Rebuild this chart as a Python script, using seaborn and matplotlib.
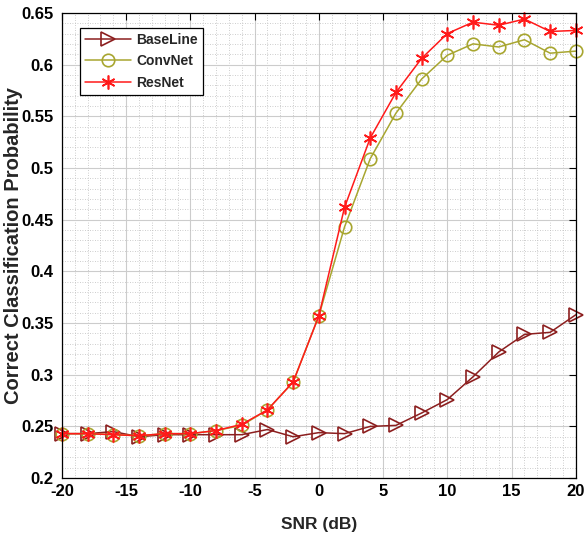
import numpy as np
import pandas as pd
import matplotlib
matplotlib.use('Agg')
import matplotlib.pyplot as plt
from matplotlib.ticker import MultipleLocator
import seaborn as sns

# Données
snr = [-20, -18, -16, -14, -12, -10, -8, -6, -4, -2, 0,
       2, 4, 6, 8, 10, 12, 14, 16, 18, 20]
baseline = [0.243, 0.243, 0.245, 0.240, 0.242, 0.242, 0.242, 0.242, 0.247, 0.240, 0.244,
            0.243, 0.250, 0.251, 0.263, 0.276, 0.298, 0.322, 0.339, 0.341, 0.358]
convnet = [0.243, 0.243, 0.242, 0.241, 0.243, 0.243, 0.246, 0.251, 0.266, 0.293, 0.357,
           0.443, 0.509, 0.553, 0.586, 0.609, 0.620, 0.617, 0.624, 0.611, 0.613]
resnet = [0.243, 0.243, 0.242, 0.241, 0.243, 0.243, 0.246, 0.252, 0.266, 0.293, 0.357,
          0.462, 0.529, 0.573, 0.606, 0.630, 0.641, 0.638, 0.644, 0.632, 0.633]
ytick_labels = ['0.2', '0.25', '0.3', '0.35', '0.4', '0.45', '0.5', '0.55', '0.6', '0.65']

sns.set_style('white')
plt.rcParams['font.family'] = ['Liberation Sans', 'DejaVu Sans']
plt.rcParams['font.weight'] = 'bold'
plt.rcParams['axes.unicode_minus'] = False

fig = plt.figure(figsize=(5.84, 5.36), dpi=100)
ax = fig.add_axes([0.106, 0.108, 0.880, 0.868])

df = pd.DataFrame({'snr': snr, 'BaseLine': baseline, 'ConvNet': convnet, 'ResNet': resnet})

# marqueur astérisque façon MATLAB pour ResNet
series = [
    ('BaseLine', '#8c1f1f', '>', 10),
    ('ConvNet', '#a8a630', 'o', 9),
    ('ResNet', '#ff1a1a', (6, 2, 0), 10),
]
for name, color, marker, ms in series:
    sns.lineplot(data=df, x='snr', y=name, ax=ax, color=color, marker=marker,
                 markersize=ms, markerfacecolor='none', markeredgecolor=color,
                 markeredgewidth=1.2, linewidth=1.1, label=name, clip_on=False)

ax.set_xlim(-20, 20)
ax.set_ylim(0.2, 0.65)
ax.xaxis.set_major_locator(MultipleLocator(5))
ax.xaxis.set_minor_locator(MultipleLocator(1))
ax.yaxis.set_major_locator(MultipleLocator(0.05))
ax.yaxis.set_minor_locator(MultipleLocator(0.01))
ax.set_yticks(np.arange(0.2, 0.651, 0.05))
ax.set_yticklabels(ytick_labels)

ax.grid(which='major', color='#cccccc', linestyle='-', linewidth=0.8)
ax.grid(which='minor', color='#bdbdbd', linestyle=(0, (1, 2)), linewidth=0.6)
ax.set_axisbelow(True)
ax.tick_params(which='major', direction='in', length=5, width=0.8,
               top=True, right=True, labelsize=12, colors='black')
ax.tick_params(axis='x', which='major', pad=4)
ax.tick_params(axis='y', which='major', pad=6)
ax.tick_params(which='minor', length=0)
for lbl in ax.get_xticklabels() + ax.get_yticklabels():
    lbl.set_fontweight('bold')
for sp in ax.spines.values():
    sp.set_color('black')
    sp.set_linewidth(0.9)

ax.set_xlabel('SNR (dB)', fontsize=12.5, fontweight='bold')
ax.set_ylabel('Correct Classification Probability', fontsize=14.5, fontweight='bold')
ax.xaxis.set_label_coords(0.5, -0.083)
ax.yaxis.set_label_coords(-0.075, 0.5)

leg = ax.legend(loc='upper left', bbox_to_anchor=(0.035, 0.968), borderaxespad=0,
                fancybox=False, framealpha=1, edgecolor='black',
                prop={'weight': 'bold', 'size': 10},
                handlelength=3.3, handletextpad=0.4, borderpad=0.35, labelspacing=0.55)
leg.get_frame().set_linewidth(0.9)

fig.savefig('out.png', dpi=100)
